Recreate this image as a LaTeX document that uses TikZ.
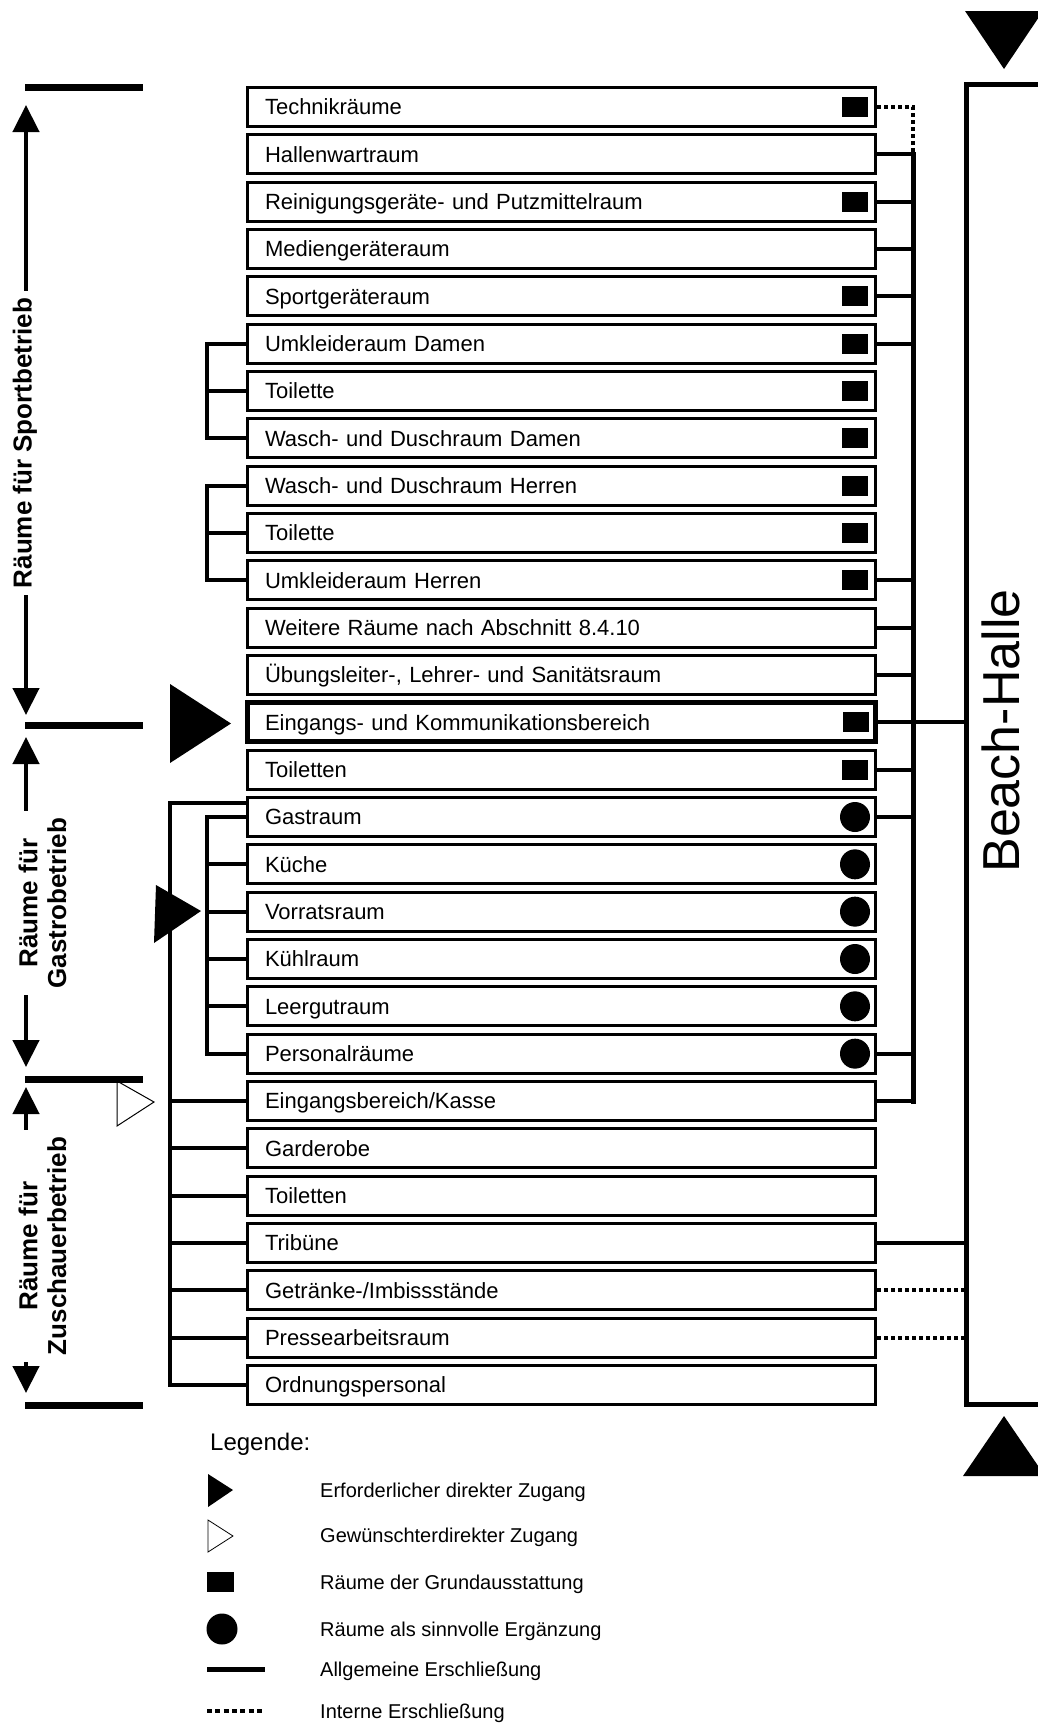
\documentclass[tikz,border=0pt]{standalone}
\usepackage{fontspec}
\setmainfont{Liberation Sans}
\usetikzlibrary{calc,arrows.meta}
\begin{document}
\begin{tikzpicture}[x=1pt,y=-1pt,
  roombox/.style={draw, line width=3pt, text width=593pt, inner xsep=17.5pt, inner ysep=0pt,
    minimum height=39pt, align=left, text height=15.5pt, text depth=0pt,
    font=\fontsize{22}{24}\selectfont},
  sqmark/.style={fill=black, minimum width=26pt, minimum height=20pt, inner sep=0pt},
  circmark/.style={circle, fill=black, minimum size=30pt, inner sep=0pt},
  conn/.style={line width=4pt, line join=miter},
  bus/.style={line width=5pt, line cap=rect},
  internal/.style={line width=4pt, dash pattern=on 4pt off 3pt},
  bar/.style={line width=7pt},
  dimarrow/.style={line width=4.5pt, {Triangle[width=26pt,length=27pt]}-{Triangle[width=26pt,length=27pt]}},
  grouplabel/.style={rotate=90, fill=white, font=\bfseries\fontsize{26}{28.6}\selectfont, align=center, inner xsep=7pt, inner ysep=1pt},
  legtext/.style={anchor=west, inner sep=0pt, text height=14pt, text depth=0pt, font=\fontsize{20}{22}\selectfont},
  hallbox/.style={draw, line width=5pt, inner sep=0pt, outer sep=0pt}
]
\path[use as bounding box] (0,0) rectangle (1038,1724);
\clip (0,0) rectangle (1038,1724);

% rooms
\foreach \i/\t/\w in {
  1/{Technikräume}/3,
  2/{Hallenwartraum}/3,
  3/{Reinigungsgeräte- und Putzmittelraum}/3,
  4/{Mediengeräteraum}/3,
  5/{Sportgeräteraum}/3,
  6/{Umkleideraum Damen}/3,
  7/{Toilette}/3,
  8/{Wasch- und Duschraum Damen}/3,
  9/{Wasch- und Duschraum Herren}/3,
  10/{Toilette}/3,
  11/{Umkleideraum Herren}/3,
  12/{Weitere Räume nach Abschnitt 8.4.10}/3,
  13/{Übungsleiter-, Lehrer- und Sanitätsraum}/3,
  14/{Eingangs- und Kommunikationsbereich}/5,
  15/{Toiletten}/3,
  16/{Gastraum}/3,
  17/{Küche}/3,
  18/{Vorratsraum}/3,
  19/{Kühlraum}/3,
  20/{Leergutraum}/3,
  21/{Personalräume}/3,
  22/{Eingangsbereich/Kasse}/3,
  23/{Garderobe}/3,
  24/{Toiletten}/3,
  25/{Tribüne}/3,
  26/{Getränke-/Imbissstände}/3,
  27/{Pressearbeitsraum}/3,
  28/{Ordnungspersonal}/3}{
  \pgfmathsetmacro\yy{107+(\i-1)*47.333}
  \node[roombox, line width=\w pt] (r\i) at (561.5,\yy) {\t};
}

% markers
\foreach \i in {1,3,5,6,7,8,9,10,11,14,15}
  \node[sqmark] (q\i) at ($(r\i.east)+(-22,0)$) {};
\foreach \i in {16,...,21}
  \node[circmark] (c\i) at ($(r\i.east)+(-22,0)$) {};

% Beach-Halle
\node[hallbox, minimum width=76.5pt, minimum height=1320pt] (hall) at (1004.75,744.5) {};
\node[rotate=90, inner sep=0pt, font=\fontsize{52}{52}\selectfont] (hallLabel) at (1001,731) {Beach-Halle};
\fill (965,11) -- (1043,11) -- (1004,69) -- cycle;
\fill (1004,1416) -- (1045,1476) -- (963,1476) -- cycle;

% right bus
\coordinate (rbus) at (913,0);
\draw[internal] (r1.east) -| (r2.east -| rbus);
\draw[bus] (r2.east -| rbus) -- (r22.east -| rbus);
\foreach \i in {2,3,4,5,6,11,12,13,15,16,21,22}
  \draw[conn] (r\i.east) -- (r\i.east -| rbus);
\draw[conn] (r14.east) -- (r14.east -| hall.west);
\draw[conn] (r25.east) -- (r25.east -| hall.west);
\draw[internal] (r26.east) -- (r26.east -| hall.west);
\draw[internal] (r27.east) -- (r27.east -| hall.west);

% left buses
\coordinate (lbusO) at (170,0);
\coordinate (lbusI) at (207,0);
\coordinate (gTop) at ($(r16.west)+(0,-14)$);
\draw[conn] (gTop) -| (r28.west -| lbusO) -- (r28.west);
\foreach \i in {22,...,27}
  \draw[conn] (r\i.west) -- (r\i.west -| lbusO);
\draw[conn] (r16.west) -| (r21.west -| lbusI) -- (r21.west);
\foreach \i in {17,...,20}
  \draw[conn] (r\i.west) -- (r\i.west -| lbusI);
\draw[conn] (r6.west) -| (r8.west -| lbusI) -- (r8.west);
\draw[conn] (r7.west) -- (r7.west -| lbusI);
\draw[conn] (r9.west) -| (r11.west -| lbusI) -- (r11.west);
\draw[conn] (r10.west) -- (r10.west -| lbusI);

% entry triangles
\fill (170,684) -- (231,723.5) -- (170,763) -- cycle;
\fill (156,885) -- (201,911) -- (154,943) -- cycle;
\draw[line width=1pt, fill=white] (117,1081) -- (154,1102) -- (117,1126) -- cycle;

% group brackets
\coordinate (b1) at (25,87);
\coordinate (b2) at (25,725);
\coordinate (b3) at (25,1079);
\coordinate (b4) at (25,1405);
\foreach \b in {b1,b2,b3,b4}
  \draw[bar] (\b) -- ++(118,0);
\draw[dimarrow] (26,105) -- (26,715);
\draw[dimarrow] (26,737) -- (26,1067);
\draw[dimarrow] (26,1087) -- (26,1393);
\node[grouplabel] (lSport) at (25,443) {Räume für Sportbetrieb};
\node[grouplabel] (lGastro) at (42.5,903) {Räume für\\Gastrobetrieb};
\node[grouplabel] (lZusch) at (42.5,1246) {Räume für\\Zuschauerbetrieb};

% legend
\node[anchor=west, inner sep=0pt, font=\fontsize{24}{26}\selectfont] (legTitle) at (210,1444) {Legende:};
\fill (208,1474) -- (233,1490) -- (208,1507) -- cycle;
\draw[line width=0.8pt] (208,1520) -- (233,1536) -- (208,1552) -- cycle;
\fill (207,1572) rectangle (234,1592);
\fill (222,1629) circle (15.5);
\draw[line width=5pt] (207,1669) -- (265,1669);
\draw[line width=4pt, dash pattern=on 5pt off 3.3pt] (207,1711) -- (265,1711);
\node[legtext] (t1) at (320,1490) {Erforderlicher direkter Zugang};
\node[legtext] (t2) at (320,1535) {Gewünschterdirekter Zugang};
\node[legtext] (t3) at (320,1582) {Räume der Grundausstattung};
\node[legtext] (t4) at (320,1629) {Räume als sinnvolle Ergänzung};
\node[legtext] (t5) at (320,1669) {Allgemeine Erschließung};
\node[legtext] (t6) at (320,1711) {Interne Erschließung};
\end{tikzpicture}
\end{document}
